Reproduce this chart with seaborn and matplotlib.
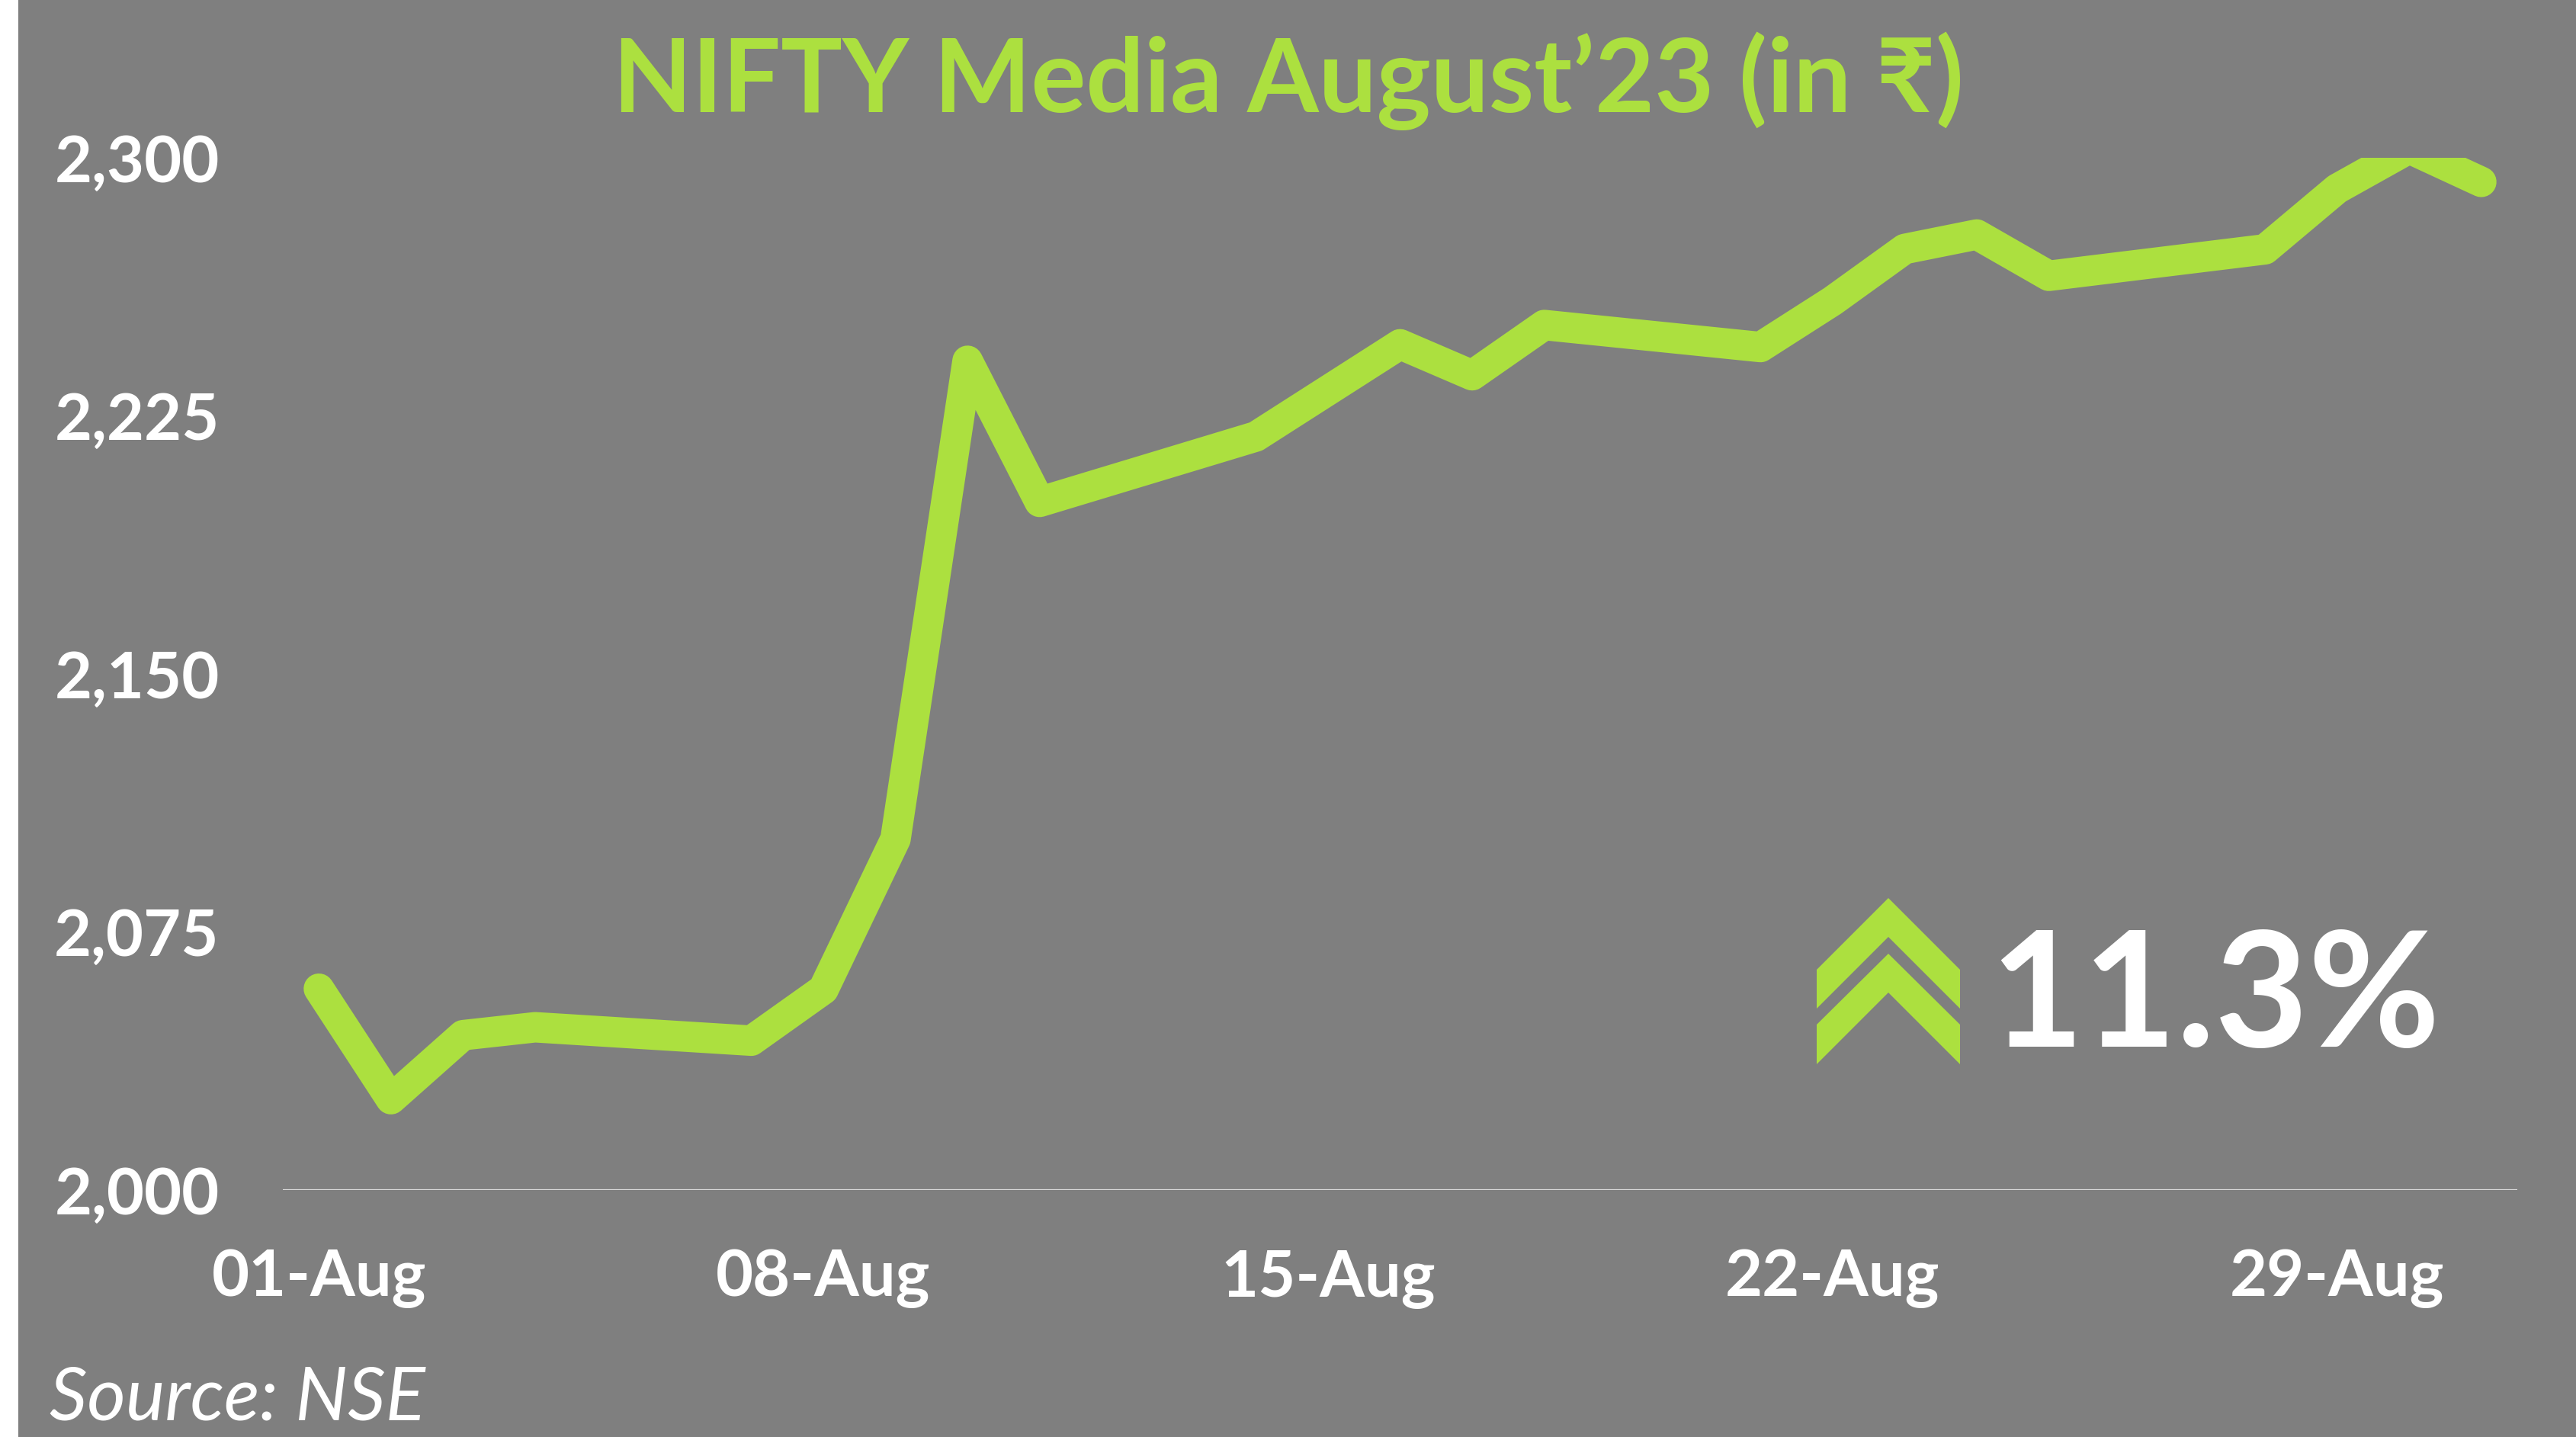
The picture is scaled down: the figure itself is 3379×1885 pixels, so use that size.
import pandas as pd
import matplotlib
matplotlib.use("Agg")
import matplotlib.pyplot as plt
import matplotlib.dates as mdates
from matplotlib.patches import Polygon, Rectangle
from matplotlib.ticker import FuncFormatter
import seaborn as sns

# NIFTY Media closing values, August 2023 (trading days)
days = [1, 2, 3, 4, 7, 8, 9, 10, 11, 14, 16, 17, 18,
        21, 22, 23, 24, 25, 28, 29, 30, 31]
closes = [2058.5, 2026.4, 2045.0, 2047.3, 2043.4, 2058.3, 2102.0, 2241.0,
          2200.0, 2219.0, 2245.8, 2236.8, 2251.4, 2245.0, 2258.4, 2273.5,
          2277.7, 2265.7, 2273.4, 2291.0, 2302.7, 2293.0]
y_ticks = [2000, 2075, 2150, 2225, 2300]
x_tick_days = [1, 8, 15, 22, 29]
title = "NIFTY Media August\u201923 (in \u20b9)"
change_label = "11.3%"
source = "Source: NSE"

BG = "#7F7F7F"
GREEN = "#ACE03F"

sns.set_theme(style="white")
plt.rcParams["font.family"] = ["Lato", "DejaVu Sans"]

df = pd.DataFrame({
    "date": pd.to_datetime([f"2023-08-{d:02d}" for d in days]),
    "close": closes,
})

W, H = 3379, 1885
fig = plt.figure(figsize=(W / 100, H / 100), dpi=100)
fig.patch.set_facecolor("white")
fig.patches.append(Rectangle((24 / W, 0), 1 - 24 / W, 1, transform=fig.transFigure,
                             facecolor=BG, edgecolor="none", zorder=-10))

ax = fig.add_axes([371 / W, 1 - 1561 / H, (3302 - 371) / W, (1561 - 207) / H])
ax.set_facecolor(BG)

sns.lineplot(data=df, x="date", y="close", ax=ax, color=GREEN, linewidth=28.8,
             solid_capstyle="round", solid_joinstyle="round", zorder=3)

ax.set_xlim(pd.Timestamp("2023-08-01") - pd.Timedelta(hours=12),
            pd.Timestamp("2023-08-31") + pd.Timedelta(hours=12))
ax.set_ylim(y_ticks[0], y_ticks[-1])
ax.set_yticks(y_ticks)
ax.yaxis.set_major_formatter(FuncFormatter(lambda v, p: f"{v:,.0f}"))
ax.set_xticks(pd.to_datetime([f"2023-08-{d:02d}" for d in x_tick_days]))
ax.xaxis.set_major_formatter(mdates.DateFormatter("%d-%b"))
ax.axhline(y_ticks[0], color="#D9D9D9", linewidth=1.6, zorder=2)

for s in ax.spines.values():
    s.set_visible(False)
ax.set_xlabel("")
ax.set_ylabel("")
ax.tick_params(axis="y", length=0, pad=60, labelsize=61, labelcolor="white")
ax.tick_params(axis="x", length=0, pad=56, labelsize=61, labelcolor="white")
for lab in ax.get_xticklabels() + ax.get_yticklabels():
    lab.set_fontweight("bold")

fig.text(0.5, 1 - 147 / H, title, ha="center", va="baseline", color=GREEN,
         fontsize=97, fontweight="bold")
fig.text(2610 / W, 1 - 1373 / H, change_label, ha="left", va="baseline",
         color="white", fontsize=152, fontweight="bold")
fig.text(65 / W, 1 - 1862 / H, source, ha="left", va="baseline", color="white",
         fontsize=70, fontstyle="italic")

# double up-chevron icon next to the change figure
def chevron(top, inner, outer, bottom):
    pts = [(2383, outer), (2477, top), (2571, outer), (2571, bottom),
           (2477, inner), (2383, bottom)]
    return Polygon([(x / W, 1 - y / H) for x, y in pts], closed=True,
                   transform=fig.transFigure, facecolor=GREEN, edgecolor="none")

fig.patches.append(chevron(1178, 1229, 1272, 1323))
fig.patches.append(chevron(1251, 1302, 1344, 1396))

fig.savefig("out.png", dpi=100, facecolor=fig.get_facecolor())
